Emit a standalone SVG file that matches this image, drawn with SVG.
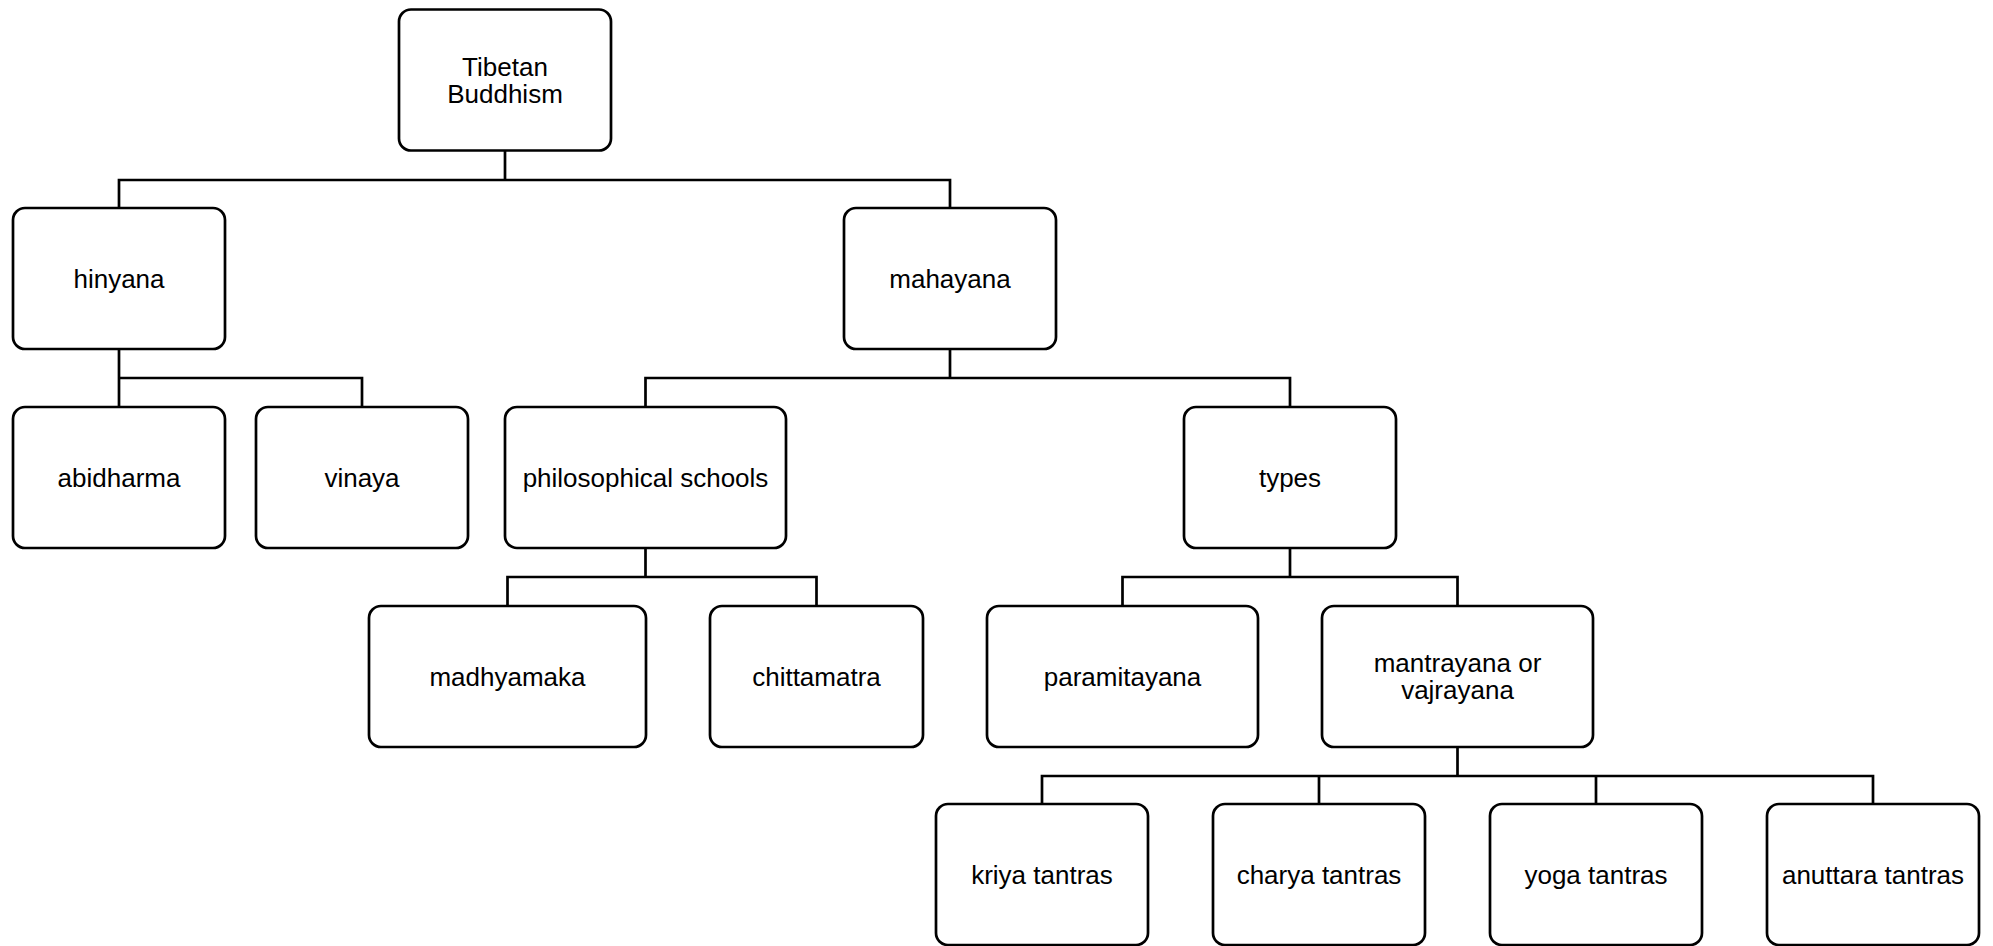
<svg xmlns="http://www.w3.org/2000/svg" width="1993" height="946" viewBox="0 0 1993 946">
<style>
.box{fill:#fff;stroke:#000;stroke-width:2.7}
.lbl{font-family:"Liberation Sans",Arial,sans-serif;font-size:26px;fill:#000;text-anchor:middle}
.con{fill:none;stroke:#000;stroke-width:2.7}
</style>
<rect width="1993" height="946" fill="#fff"/>
<g id="connectors">
<path class="con" d="M505,150.5V180M119,208V180H950V208"/>
<path class="con" d="M119,349V378M119,407V378H362V407"/>
<path class="con" d="M950,349V378M645.5,407V378H1290V407"/>
<path class="con" d="M645.5,548V577M507.5,606V577H816.5V606"/>
<path class="con" d="M1290,548V577M1122.5,606V577H1457.5V606"/>
<path class="con" d="M1457.5,747V776M1042,804V776H1873V804M1319,776V804M1596,776V804"/>
</g>
<g id="root"><rect class="box" x="399" y="9.5" width="212" height="141" rx="12"/><text class="lbl" x="505" y="75.5">Tibetan</text><text class="lbl" x="505" y="102.5">Buddhism</text></g>
<g id="hinyana"><rect class="box" x="13" y="208" width="212" height="141" rx="12"/><text class="lbl" x="119" y="287.5">hinyana</text></g>
<g id="mahayana"><rect class="box" x="844" y="208" width="212" height="141" rx="12"/><text class="lbl" x="950" y="287.5">mahayana</text></g>
<g id="abidharma"><rect class="box" x="13" y="407" width="212" height="141" rx="12"/><text class="lbl" x="119" y="486.5">abidharma</text></g>
<g id="vinaya"><rect class="box" x="256" y="407" width="212" height="141" rx="12"/><text class="lbl" x="362" y="486.5">vinaya</text></g>
<g id="philosophical-schools"><rect class="box" x="505" y="407" width="281" height="141" rx="12"/><text class="lbl" x="645.5" y="486.5">philosophical schools</text></g>
<g id="types"><rect class="box" x="1184" y="407" width="212" height="141" rx="12"/><text class="lbl" x="1290" y="486.5">types</text></g>
<g id="madhyamaka"><rect class="box" x="369" y="606" width="277" height="141" rx="12"/><text class="lbl" x="507.5" y="685.5">madhyamaka</text></g>
<g id="chittamatra"><rect class="box" x="710" y="606" width="213" height="141" rx="12"/><text class="lbl" x="816.5" y="685.5">chittamatra</text></g>
<g id="paramitayana"><rect class="box" x="987" y="606" width="271" height="141" rx="12"/><text class="lbl" x="1122.5" y="685.5">paramitayana</text></g>
<g id="mantrayana"><rect class="box" x="1322" y="606" width="271" height="141" rx="12"/><text class="lbl" x="1457.5" y="672">mantrayana or</text><text class="lbl" x="1457.5" y="699">vajrayana</text></g>
<g id="kriya"><rect class="box" x="936" y="804" width="212" height="141" rx="12"/><text class="lbl" x="1042" y="883.5">kriya tantras</text></g>
<g id="charya"><rect class="box" x="1213" y="804" width="212" height="141" rx="12"/><text class="lbl" x="1319" y="883.5">charya tantras</text></g>
<g id="yoga"><rect class="box" x="1490" y="804" width="212" height="141" rx="12"/><text class="lbl" x="1596" y="883.5">yoga tantras</text></g>
<g id="anuttara"><rect class="box" x="1767" y="804" width="212" height="141" rx="12"/><text class="lbl" x="1873" y="883.5">anuttara tantras</text></g>
</svg>
